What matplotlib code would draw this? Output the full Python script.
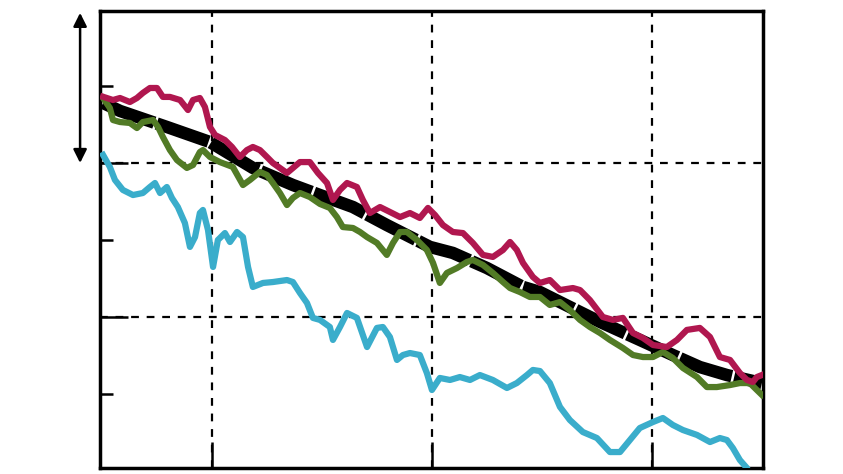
import matplotlib
matplotlib.use("Agg")
import matplotlib.pyplot as plt
from matplotlib.ticker import FixedLocator, NullFormatter

# ---- data (x in years, y in index units) ----
trend_x = [0.05, 0.82, 2.95, 4.91, 6.86, 8.68, 9.91, 11.41, 12.95, 14.91, 15.95, 17.5,
           19.14, 19.91, 21.27, 22.64, 24.45, 25.95, 27.18, 28.41, 30.0]
trend_y = [239.0, 233.8, 223.4, 213.6, 196.8, 185.7, 179.2, 171.4, 159.7, 145.5, 141.6, 131.8,
           119.5, 116.2, 106.5, 96.8, 85.1, 75.3, 67.5, 62.3, 57.1]

red_x = [0.05, 0.5, 0.82, 1.27, 1.59, 1.86, 2.18, 2.5, 2.77, 3.09, 3.55, 3.91, 4.14, 4.45,
         4.68, 4.91, 5.14, 5.59, 5.91, 6.27, 6.59, 6.86, 7.18, 7.5, 7.77, 8.41, 9.0, 9.45,
         9.82, 10.23, 10.5, 10.82, 11.14, 11.59, 11.86, 12.18, 12.64, 13.09, 13.55, 14.0,
         14.45, 14.82, 15.14, 15.5, 15.95, 16.41, 16.86, 17.32, 17.77, 18.23, 18.55, 18.86,
         19.14, 19.59, 19.91, 20.36, 20.82, 21.41, 21.73, 22.18, 22.77, 23.23, 23.68, 24.14,
         24.59, 25.05, 25.68, 26.14, 26.59, 27.18, 27.64, 28.09, 28.55, 29.0, 29.32, 29.59,
         29.77, 30.0]
red_y = [243.0, 240.9, 242.2, 239.6, 242.2, 245.5, 248.7, 248.7, 242.9, 242.9, 240.9, 234.4,
         240.9, 242.2, 236.4, 223.4, 218.2, 214.9, 210.4, 203.9, 208.4, 210.4, 208.4, 203.9,
         200.0, 193.5, 200.6, 200.6, 193.5, 187.0, 176.0, 182.5, 187.0, 184.4, 176.0, 167.5,
         171.4, 168.2, 164.9, 167.5, 164.3, 170.8, 166.2, 159.7, 155.2, 154.5, 148.1, 140.3,
         139.0, 143.5, 148.7, 143.5, 135.1, 126.0, 122.1, 124.0, 117.5, 118.8, 117.5, 111.0,
         100.0, 98.1, 99.4, 89.6, 86.4, 81.8, 80.5, 85.1, 91.6, 92.9, 87.0, 74.0, 72.1, 63.6,
         59.1, 57.8, 61.0, 62.3]

green_x = [0.05, 0.36, 0.5, 0.82, 1.27, 1.59, 1.86, 2.32, 2.55, 2.77, 3.09, 3.41, 3.86, 4.14,
           4.45, 4.59, 4.91, 5.36, 5.95, 6.41, 6.73, 7.18, 7.5, 7.77, 8.09, 8.41, 8.68, 9.0,
           9.45, 9.91, 10.36, 10.68, 10.95, 11.41, 11.73, 12.05, 12.5, 12.95, 13.23, 13.55,
           13.86, 14.32, 14.77, 15.05, 15.36, 15.68, 16.14, 16.59, 16.86, 17.32, 17.77, 18.23,
           18.55, 19.0, 19.45, 19.91, 20.36, 20.82, 21.27, 21.73, 22.18, 22.64, 23.09, 23.68,
           24.14, 24.59, 25.05, 25.5, 25.95, 26.41, 27.05, 27.5, 27.95, 28.55, 29.0, 29.45,
           29.77, 30.0]
green_y = [242.2, 235.7, 227.9, 226.6, 226.0, 222.7, 226.6, 227.9, 223.4, 216.9, 208.4, 201.9,
           196.8, 198.7, 207.1, 208.4, 203.9, 200.6, 197.4, 185.7, 189.0, 194.2, 192.2, 187.0,
           180.5, 172.7, 177.3, 180.5, 177.9, 173.4, 170.8, 164.9, 158.4, 157.8, 155.2, 151.9,
           148.1, 140.3, 148.1, 155.2, 155.2, 150.0, 143.5, 135.1, 122.1, 128.6, 131.8, 135.7,
           137.0, 133.8, 128.6, 122.7, 118.8, 116.2, 113.0, 113.0, 107.8, 109.7, 104.5, 98.1,
           93.5, 89.6, 85.1, 79.9, 75.3, 74.0, 74.0, 77.3, 73.4, 66.9, 61.0, 54.5, 54.5, 55.8,
           57.1, 57.1, 52.6, 49.4]

blue_x = [0.05, 0.36, 0.59, 0.95, 1.41, 1.86, 2.18, 2.41, 2.64, 2.95, 3.18, 3.45, 3.77, 4.0,
          4.23, 4.45, 4.59, 4.82, 5.05, 5.27, 5.59, 5.82, 6.14, 6.41, 6.64, 6.86, 7.32, 7.77,
          8.41, 8.68, 9.0, 9.32, 9.59, 9.91, 10.36, 10.5, 10.82, 11.14, 11.59, 12.05, 12.5,
          12.77, 13.09, 13.41, 13.68, 14.0, 14.45, 14.77, 15.0, 15.36, 15.82, 16.27, 16.73,
          17.18, 17.77, 18.41, 18.86, 19.32, 19.59, 19.91, 20.36, 20.82, 21.27, 21.86, 22.5,
          23.09, 23.55, 24.0, 24.45, 25.05, 25.5, 25.95, 26.41, 27.05, 27.64, 28.09, 28.41,
          28.68, 29.0, 29.32, 29.55]
blue_y = [205.2, 197.4, 189.0, 182.5, 179.2, 180.5, 184.4, 187.0, 180.5, 184.4, 177.3, 171.4,
          161.0, 145.5, 151.9, 167.5, 169.5, 156.5, 132.5, 150.0, 154.5, 148.7, 155.2, 151.9,
          132.5, 119.5, 122.1, 122.7, 124.0, 122.7, 115.6, 109.1, 99.4, 98.1, 93.5, 85.1, 93.5,
          102.6, 99.4, 80.5, 92.9, 93.5, 87.0, 72.1, 75.3, 76.6, 75.3, 63.6, 52.6, 60.4, 59.1,
          61.0, 59.1, 62.3, 59.1, 53.9, 57.1, 62.3, 65.6, 64.9, 57.1, 41.6, 33.1, 25.3, 21.4,
          12.3, 12.3, 20.1, 27.9, 31.8, 34.4, 29.9, 26.6, 23.4, 18.8, 21.4, 20.1, 14.9, 7.1,
          1.9, -4.5]

x_grid = [5, 15, 25]
y_major = [100, 200]
y_minor = [50, 150, 250]

RED = "#B0174F"
GREEN = "#527B26"
BLUE = "#3AADCB"

fig = plt.figure(figsize=(8.43, 4.74), dpi=100)
ax = fig.add_axes([0.1186, 0.0127, 0.7865, 0.9641])
ax.set_xlim(-0.09, 30.05)
ax.set_ylim(1.95, 298.7)

for s in ax.spines.values():
    s.set_linewidth(2.5)
    s.set_color("black")

ax.xaxis.set_major_locator(FixedLocator(x_grid))
ax.yaxis.set_major_locator(FixedLocator(y_major))
ax.yaxis.set_minor_locator(FixedLocator(y_minor))
ax.xaxis.set_major_formatter(NullFormatter())
ax.yaxis.set_major_formatter(NullFormatter())
ax.yaxis.set_minor_formatter(NullFormatter())
ax.tick_params(axis="x", which="major", direction="in", length=19, width=1.8,
               bottom=True, top=False, color="black")
ax.tick_params(axis="y", which="major", direction="in", length=20, width=1.8,
               left=True, right=False, color="black")
ax.tick_params(axis="y", which="minor", direction="in", length=9.5, width=1.8,
               left=True, right=False, color="black")
ax.grid(True, which="major", axis="both", color="black", linewidth=1.6,
        linestyle=(0, (3.5, 3.5)))
ax.set_axisbelow(True)

ax.plot(trend_x, trend_y, color="black", linewidth=9, dashes=(4.4, 0.2),
        solid_capstyle="butt", dash_capstyle="butt", zorder=3)
ax.plot(blue_x, blue_y, color=BLUE, linewidth=4.5, solid_joinstyle="round", zorder=4)
ax.plot(green_x, green_y, color=GREEN, linewidth=4.5, solid_joinstyle="round", zorder=4)
ax.plot(red_x, red_y, color=RED, linewidth=4.5, solid_joinstyle="round", zorder=5)

ax.annotate("", xy=(-0.03, 297.5), xytext=(-0.03, 200.0),
            xycoords=ax.get_yaxis_transform(), textcoords=ax.get_yaxis_transform(),
            arrowprops=dict(arrowstyle="<|-|>", color="black", lw=1.8,
                            mutation_scale=20, shrinkA=0, shrinkB=0),
            annotation_clip=False)

fig.savefig("out.png", dpi=100)
